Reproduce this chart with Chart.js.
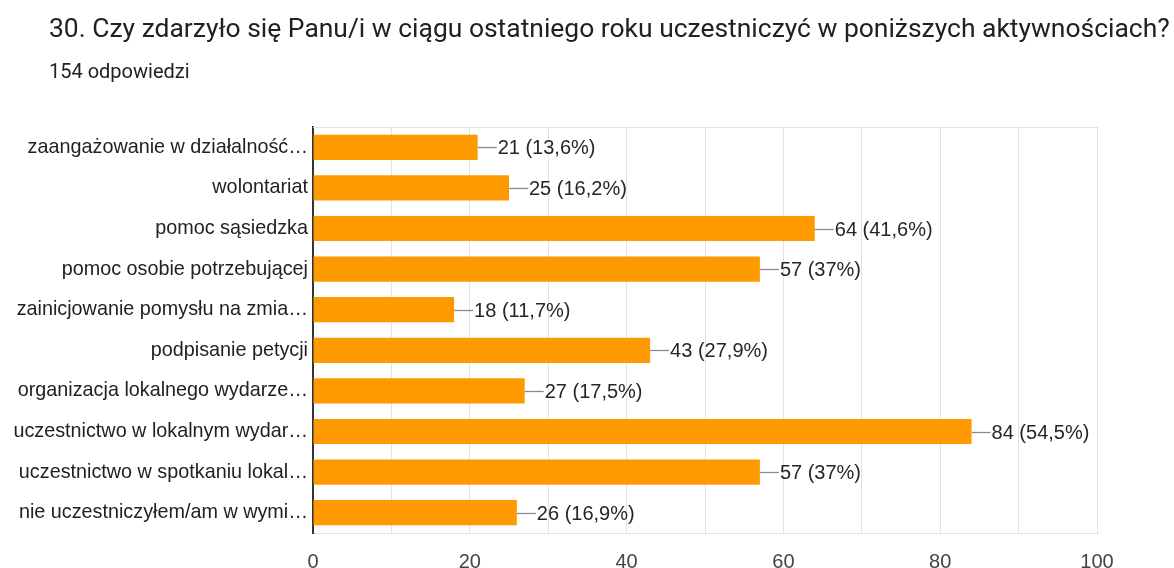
<!DOCTYPE html>
<html lang="pl">
<head>
<meta charset="utf-8">
<script src="https://cdn.jsdelivr.net/npm/chart.js@4/dist/chart.umd.min.js"></script>
<style>
  html, body { margin: 0; padding: 0; background: #fff; }
  #wrap { position: relative; width: 1174px; height: 568px; }
  #title { position: absolute; left: 49px; top: 12px; font: 28px Roboto, sans-serif; line-height: normal; color: #212121; white-space: nowrap; }
  #subtitle { position: absolute; left: 49px; top: 59px; font: 20px Roboto, sans-serif; line-height: normal; color: #212121; white-space: nowrap; }
  canvas { position: absolute; left: 0; top: 0; }
</style>
</head>
<body>
<div id="wrap">
  <canvas id="c" width="1174" height="568"></canvas>
  <div id="title">30. Czy zdarzyło się Panu/i w ciągu ostatniego roku uczestniczyć w poniższych aktywnościach?</div>
  <div id="subtitle">154 odpowiedzi</div>
</div>
<script>
// Activity categories (labels shortened as shown on the axis)
const categories = [
  'zaangażowanie w działalność…',
  'wolontariat',
  'pomoc sąsiedzka',
  'pomoc osobie potrzebującej',
  'zainicjowanie pomysłu na zmia…',
  'podpisanie petycji',
  'organizacja lokalnego wydarze…',
  'uczestnictwo w lokalnym wydar…',
  'uczestnictwo w spotkaniu lokal…',
  'nie uczestniczyłem/am w wymi…'
];
// Number of respondents per activity
const counts = [21, 25, 64, 57, 18, 43, 27, 84, 57, 26];
// Share of all 154 respondents
const shares = ['13,6%', '16,2%', '41,6%', '37%', '11,7%', '27,9%', '17,5%', '54,5%', '37%', '16,9%'];
// Value axis ticks
const xTicks = [0, 20, 40, 60, 80, 100];

const FONT = '"Liberation Sans", Arial, sans-serif';

// Keep the question on one line across the page width
(function fitTitle() {
  const el = document.getElementById('title');
  const target = 1121;
  const w = el.getBoundingClientRect().width;
  if (w > 0) el.style.fontSize = (28 * target / w).toFixed(2) + 'px';
})();

// Top border of the plot area
const frameTop = {
  id: 'frameTop',
  beforeDatasetsDraw(chart) {
    const { ctx, chartArea } = chart;
    ctx.save();
    ctx.strokeStyle = '#e3e3e3';
    ctx.lineWidth = 1;
    ctx.beginPath();
    ctx.moveTo(chartArea.left, chartArea.top + 0.5);
    ctx.lineTo(chartArea.right, chartArea.top + 0.5);
    ctx.stroke();
    ctx.restore();
  }
};

// Leader line + "count (share)" label after each bar
const valueLabels = {
  id: 'valueLabels',
  afterDatasetsDraw(chart) {
    const { ctx } = chart;
    const meta = chart.getDatasetMeta(0);
    ctx.save();
    ctx.font = '20px ' + FONT;
    ctx.textBaseline = 'middle';
    ctx.textAlign = 'left';
    meta.data.forEach((bar, i) => {
      const x = bar.x, y = Math.round(bar.y) + 0.5;
      ctx.strokeStyle = '#8a8a8a';
      ctx.lineWidth = 1.3;
      ctx.beginPath();
      ctx.moveTo(x, y);
      ctx.lineTo(x + 19, y);
      ctx.stroke();
      ctx.fillStyle = '#262626';
      ctx.fillText(counts[i] + ' (' + shares[i] + ')', x + 20, y + 1);
    });
    ctx.restore();
  }
};

new Chart(document.getElementById('c'), {
  type: 'bar',
  data: {
    labels: categories,
    datasets: [{
      data: counts,
      backgroundColor: '#ff9900',
      borderWidth: 0,
      barPercentage: 0.62,
      categoryPercentage: 1
    }]
  },
  options: {
    indexAxis: 'y',
    responsive: false,
    animation: false,
    layout: { padding: { top: 127, right: 77, left: 0, bottom: 0 } },
    plugins: {
      legend: { display: false },
      tooltip: { enabled: false }
    },
    scales: {
      x: {
        min: 0,
        max: 100,
        afterBuildTicks(scale) {
          const t = [];
          for (let v = 0; v <= 100; v += 10) t.push({ value: v });
          scale.ticks = t;
        },
        afterFit(scale) { scale.height = 35; },
        ticks: {
          autoSkip: false,
          maxRotation: 0,
          padding: 17,
          color: '#444',
          font: { family: FONT, size: 20 },
          callback: (v) => (xTicks.includes(v) ? String(v) : '')
        },
        grid: { color: '#e3e3e3', drawTicks: false },
        border: { color: '#e3e3e3' }
      },
      y: {
        afterFit(scale) { scale.width = 313; },
        ticks: {
          padding: 5,
          color: '#222',
          font: { family: FONT, size: 19.8 }
        },
        grid: { display: false, drawTicks: false },
        border: { color: '#333', width: 2 }
      }
    }
  },
  plugins: [frameTop, valueLabels]
});
</script>
</body>
</html>
